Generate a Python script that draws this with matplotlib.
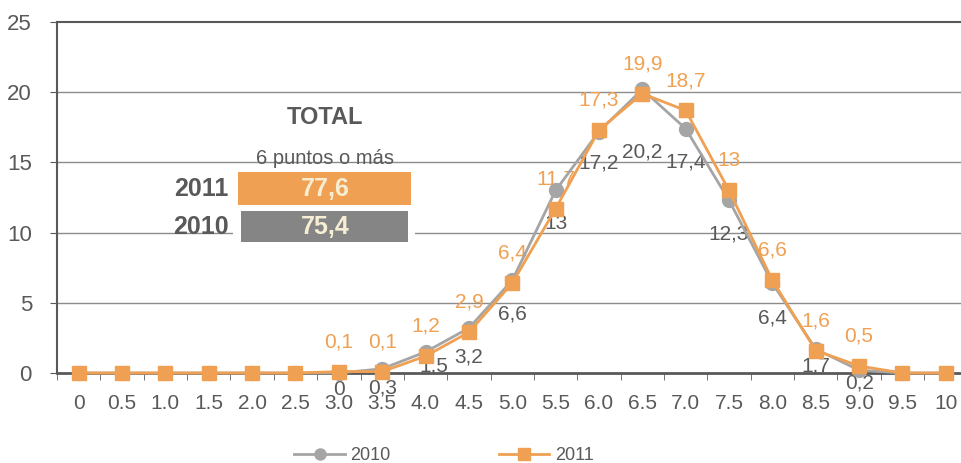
import numpy as np
import matplotlib
matplotlib.use("Agg")
import matplotlib.pyplot as plt
from matplotlib.patches import Rectangle
from matplotlib.lines import Line2D

plt.rcParams['font.family'] = ['Liberation Sans', 'DejaVu Sans']

# notas (eje x)
cats = ['0', '0.5', '1.0', '1.5', '2.0', '2.5', '3.0', '3.5', '4.0', '4.5', '5.0',
        '5.5', '6.0', '6.5', '7.0', '7.5', '8.0', '8.5', '9.0', '9.5', '10']
v2010 = [0, 0, 0, 0, 0, 0, 0, 0.3, 1.5, 3.2, 6.6, 13, 17.2, 20.2, 17.4, 12.3, 6.4, 1.7, 0.2, 0, 0]
v2011 = [0, 0, 0, 0, 0, 0, 0.1, 0.1, 1.2, 2.9, 6.4, 11.7, 17.3, 19.9, 18.7, 13, 6.6, 1.6, 0.5, 0, 0]
# etiquetas visibles de 3.0 a 9.0
lab_from, lab_to = 6, 18

total_years = ['2011', '2010']
total_vals = [77.6, 75.4]

ORANGE = '#EFA052'
GRAY = '#A5A5A5'
DARK = '#595959'
BARGRAY = '#858585'
CREAM = '#F6EDD3'

fig = plt.figure(figsize=(9.61, 4.63), dpi=100)
ax = fig.add_axes([57/961, 90/463, 904/961, 351/463])

x = np.arange(len(cats))
ax.set_xlim(-0.46, 20.35)
ax.set_ylim(0, 25)

# grid
for yv in [5, 10, 15, 20]:
    ax.axhline(yv, color='#8C8C8C', lw=1, zorder=0)
ax.axhline(25, color=DARK, lw=1.5, zorder=0, clip_on=False)

# recuadro TOTAL
ax.add_patch(Rectangle((0.1947, 0.362), 0.2013, 0.228, transform=ax.transAxes,
                       facecolor='white', edgecolor='none', zorder=1))
ax.text(0.2965, 0.7265, 'TOTAL', transform=ax.transAxes, ha='center', va='center',
        fontsize=17, fontweight='bold', color=DARK, zorder=2)
ax.text(0.2965, 0.6125, '6 puntos o más', transform=ax.transAxes, ha='center', va='center',
        fontsize=14.5, color=DARK, zorder=2)
bar_boxes = [(0.2002, 0.4786, 0.1914, 0.094), (0.2035, 0.3732, 0.1848, 0.0883)]
bar_cols = [ORANGE, BARGRAY]
for (bx, by, bw, bh), col, yr, val in zip(bar_boxes, bar_cols, total_years, total_vals):
    ax.add_patch(Rectangle((bx, by), bw, bh, transform=ax.transAxes,
                           facecolor=col, edgecolor='none', zorder=2))
    ax.text(0.2965, by + bh / 2, ('%.1f' % val).replace('.', ','), transform=ax.transAxes,
            ha='center', va='center', fontsize=18, fontweight='bold', color=CREAM, zorder=3)
    ax.text(0.19, by + bh / 2, yr, transform=ax.transAxes, ha='right', va='center',
            fontsize=18, fontweight='bold', color=DARK, zorder=3)

# series
ax.plot(x, v2010, color=GRAY, lw=2, marker='o', markersize=10, zorder=4, clip_on=False)
ax.plot(x, v2011, color=ORANGE, lw=2, marker='s', markersize=10, zorder=5, clip_on=False)

# etiquetas de datos
dy2010 = [-12, -14, -10, -21, -24, -24, -23, -45, -24, -24, -25, -12, -9]
dx2010 = [0, 0, 6, 0, 0, 0, 0, 0, 0, 0, 0, 0, 0]
fmt = lambda v: ('%g' % v).replace('.', ',')
for k, i in enumerate(range(lab_from, lab_to + 1)):
    ax.annotate(fmt(v2010[i]), (x[i], v2010[i]), xytext=(dx2010[k], dy2010[k]),
                textcoords='offset points', ha='center', va='center',
                fontsize=15, color=DARK, zorder=3, annotation_clip=False)
    ax.annotate(fmt(v2011[i]), (x[i], v2011[i]), xytext=(0, 21.5),
                textcoords='offset points', ha='center', va='center',
                fontsize=15, color=ORANGE, zorder=3, annotation_clip=False)

# ejes
ax.set_xticks(x)
ax.set_xticklabels(cats)
ax.set_xticks(np.arange(-0.5, 20.5, 1), minor=True)
ax.tick_params(axis='x', which='major', length=0, labelsize=15, colors=DARK, pad=15)
ax.tick_params(axis='x', which='minor', length=5, color=DARK, direction='out')
ax.set_yticks([0, 5, 10, 15, 20, 25])
ax.tick_params(axis='y', length=5, labelsize=16, colors=DARK, color=DARK, pad=13)
for s in ['top', 'right']:
    ax.spines[s].set_visible(False)
ax.spines['left'].set_color(DARK)
ax.spines['left'].set_linewidth(1.5)
ax.spines['bottom'].set_color(DARK)
ax.spines['bottom'].set_linewidth(2)

handles = [Line2D([], [], color=GRAY, lw=2, marker='o', markersize=8),
           Line2D([], [], color=ORANGE, lw=2, marker='s', markersize=8)]
fig.legend(handles, ['2010', '2011'], loc='center', bbox_to_anchor=(444/961, 7/463),
           ncol=2, frameon=False, fontsize=13, handlelength=2.8, columnspacing=6,
           labelcolor=DARK, handletextpad=0.3)

fig.savefig('out.png', dpi=100)
